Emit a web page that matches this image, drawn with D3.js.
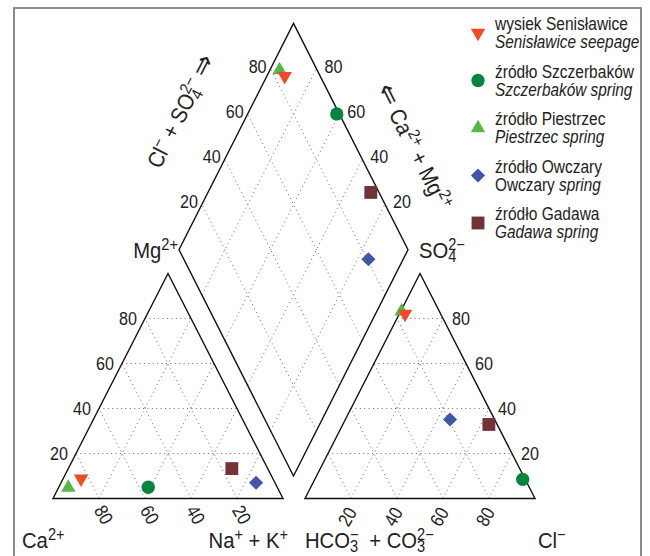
<!DOCTYPE html>
<html><head><meta charset="utf-8">
<script src="https://cdn.jsdelivr.net/npm/d3@7/dist/d3.min.js"></script>
<style>
body{margin:0;background:#fff;}
svg text{font-family:"Liberation Sans",Arial,sans-serif;fill:#222;}
</style></head>
<body><svg id="c" width="650" height="556"></svg>
<script>
// ---- data ----
const samples = ["Senisławice","Szczerbaków","Piestrzec","Owczary","Gadawa"];
const namePL = ["wysiek Senisławice","źródło Szczerbaków","źródło Piestrzec","źródło Owczary","źródło Gadawa"];
const nameENplain = ["","","","Owczary ",""];
const nameENitalic = ["Senisławice seepage","Szczerbaków spring","Piestrzec spring","spring","Gadawa spring"];
// cations (% meq)
const Ca  = [83.4, 56.1, 90.9,  8.2, 15.6];
const Mg  = [ 8.8,  5.0,  4.9,  7.0, 13.3];
const NaK = [ 7.8, 38.9,  4.2, 84.8, 71.1];
// anions (% meq)
const HCO3 = [15.5,  1.1, 16.4, 19.4,  3.6];
const SO4  = [82.0,  8.5, 83.2, 35.1, 32.9];
const Cl   = [ 2.5, 90.4,  0.4, 45.5, 63.5];
const ticks = [20,40,60,80];
const colors = ["#ee4b26","#00853f","#55b947","#3f57a8","#743238"];
const shapes = ["triDown","circle","triUp","diamond","square"];

// ---- scales ----
const triX = d3.scaleLinear().domain([0,100]).range([0,230]);
const triY = d3.scaleLinear().domain([0,100]).range([0,225]);
const diaX = d3.scaleLinear().domain([0,100]).range([0,114.5]);
const diaY = d3.scaleLinear().domain([0,100]).range([0,226.3]);
const baseY = 498.5, leftX0 = 53, rightX0 = 305, diaBX = 293.5, diaBY = 476;

const catP = (na,mg)=>[leftX0+triX(na+mg/2), baseY-triY(mg)];
const anP  = (cl,so)=>[rightX0+triX(cl+so/2), baseY-triY(so)];
const diaP = (a,c)=>[diaBX+diaX(a)-diaX(c), diaBY-diaY(a)-diaY(c)];

const svg = d3.select("#c");
svg.append("rect").attr("x",14).attr("y",8).attr("width",627).attr("height",620)
  .attr("fill","none").attr("stroke","#8a8a8a").attr("stroke-width",2);

const grid = svg.append("g").attr("stroke","#6a6a6a").attr("stroke-width",1)
  .attr("stroke-dasharray","1,3.4").attr("fill","none");
const line = d3.line();
function seg(p,q){grid.append("path").attr("d",line([p,q]));}
ticks.forEach(v=>{
  seg(catP(0,v),catP(100-v,v));
  seg(catP(v,0),catP(v,100-v));
  seg(catP(100-v,0),catP(0,100-v));
  seg(anP(0,v),anP(100-v,v));
  seg(anP(v,0),anP(v,100-v));
  seg(anP(100-v,0),anP(0,100-v));
  seg(diaP(v,0),diaP(v,100));
  seg(diaP(0,v),diaP(100,v));
});

const out = svg.append("g").attr("stroke","#111").attr("stroke-width",1.4).attr("fill","none");
out.append("path").attr("d",line([catP(0,0),catP(100,0),catP(0,100)])+"Z");
out.append("path").attr("d",line([anP(0,0),anP(100,0),anP(0,100)])+"Z");
out.append("path").attr("d",line([diaP(0,0),diaP(100,0),diaP(100,100),diaP(0,100)])+"Z");

// text helper
function txt(parent,x,y,opts){
  const o = Object.assign({rot:0,anchor:"start",size:19,dy:null,sx:0.85},opts);
  const t = parent.append("text")
    .attr("transform",`translate(${x},${y}) rotate(${o.rot}) scale(${o.sx},1)`)
    .attr("text-anchor",o.anchor).attr("font-size",o.size);
  if(o.dy) t.attr("dy",o.dy);
  const parts = o.parts || [[o.text,""]];
  parts.forEach(([s,tp,dx])=>{
    const ts = t.append("tspan").text(s);
    if(tp==="sup") ts.attr("font-size","72%").attr("baseline-shift","55%");
    if(tp==="sub") ts.attr("font-size","72%").attr("baseline-shift","-28%");
    if(tp==="supx") ts.attr("font-size","72%").attr("baseline-shift","55%").attr("dx","-0.556em");
    if(tp==="it") ts.attr("font-style","italic");
    if(tp==="arrow") ts.attr("font-size","125%");
    if(dx) ts.attr("dx",dx);
  });
  return t;
}

const tl = svg.append("g");
ticks.forEach(v=>{
  let p = catP(0,v);
  txt(tl,p[0]-8,p[1],{anchor:"end",dy:"0.36em",text:v});
  let q = catP(100-v,0);
  txt(tl,q[0]+5,baseY+16,{anchor:"middle",dy:"0.36em",rot:60,text:v});
  p = anP(100-v,v);
  txt(tl,p[0]+9,p[1],{dy:"0.36em",text:v});
  q = anP(v,0);
  txt(tl,q[0]-4,baseY+18,{anchor:"middle",dy:"0.36em",rot:-60,text:v});
  p = diaP(v,100);
  txt(tl,p[0]-4,p[1]-3,{anchor:"end",dy:"0.36em",text:v});
  p = diaP(100,v);
  txt(tl,p[0]+8,p[1]-3,{dy:"0.36em",text:v});
});

const ax = svg.append("g");
const AS = {size:22.5, sx:0.9};
txt(ax,178,258,Object.assign({anchor:"end",parts:[["Mg",""],["2+","sup"]]},AS));
txt(ax,419,258,Object.assign({parts:[["SO",""],["4","sub"],["2−","supx"]]},AS));
txt(ax,22,548,Object.assign({parts:[["Ca",""],["2+","sup"]]},AS));
txt(ax,288,548,Object.assign({anchor:"end",parts:[["Na",""],["+","sup"],[" + K",""],["+","sup"]]},AS));
txt(ax,305,548,Object.assign({parts:[["HCO",""],["3","sub"],["−","supx"],["+ CO","","12"],["3","sub"],["2−","supx"]]},AS));
txt(ax,538,548,Object.assign({parts:[["Cl",""],["−","sup"]]},AS));
txt(ax,181,111,Object.assign({anchor:"middle",rot:-63,dy:"0.35em",parts:[["Cl",""],["−","sup"],[" + SO",""],["4","sub"],["2−","supx"],[" ",""],["⇒","arrow"]]},AS));
txt(ax,414,147,Object.assign({anchor:"middle",rot:63,dy:"0.35em",parts:[["⇐","arrow"],[" Ca",""],["2+","sup"],[" + Mg",""],["2+","sup"]]},AS));

function sym(shape){
  if(shape==="circle") return d3.symbol(d3.symbolCircle,140)();
  if(shape==="square") return d3.symbol(d3.symbolSquare,165)();
  if(shape==="diamond") return d3.symbol(d3.symbolSquare,100)();
  return d3.symbol(d3.symbolTriangle,90)();
}
function rot(shape){ return shape==="triDown"?180:(shape==="diamond"?45:0); }
const order = [2,0,1,3,4];
const pts = svg.append("g");
order.forEach(i=>{
  const sh = shapes[i];
  const a = Cl[i]+SO4[i], c = Ca[i]+Mg[i];
  [catP(NaK[i],Mg[i]), anP(Cl[i],SO4[i]), diaP(a,c)].forEach(p=>{
    pts.append("path").attr("d",sym(sh)).attr("fill",colors[i])
      .attr("transform",`translate(${p[0]},${p[1]}) rotate(${rot(sh)})`);
  });
});

const lg = svg.append("g");
const ly = d3.scaleLinear().domain([0,4]).range([33,223]);
samples.forEach((s,i)=>{
  const y = ly(i);
  lg.append("path").attr("d",sym(shapes[i])).attr("fill",colors[i])
    .attr("transform",`translate(478,${y}) rotate(${rot(shapes[i])})`);
  txt(lg,495,y-3,{size:18.5,sx:0.84,text:namePL[i]});
  const parts = [];
  if(nameENplain[i]) parts.push([nameENplain[i],""]);
  parts.push([nameENitalic[i],"it"]);
  txt(lg,495,y+15,{size:18.5,sx:0.83,parts:parts});
});
</script></body></html>
